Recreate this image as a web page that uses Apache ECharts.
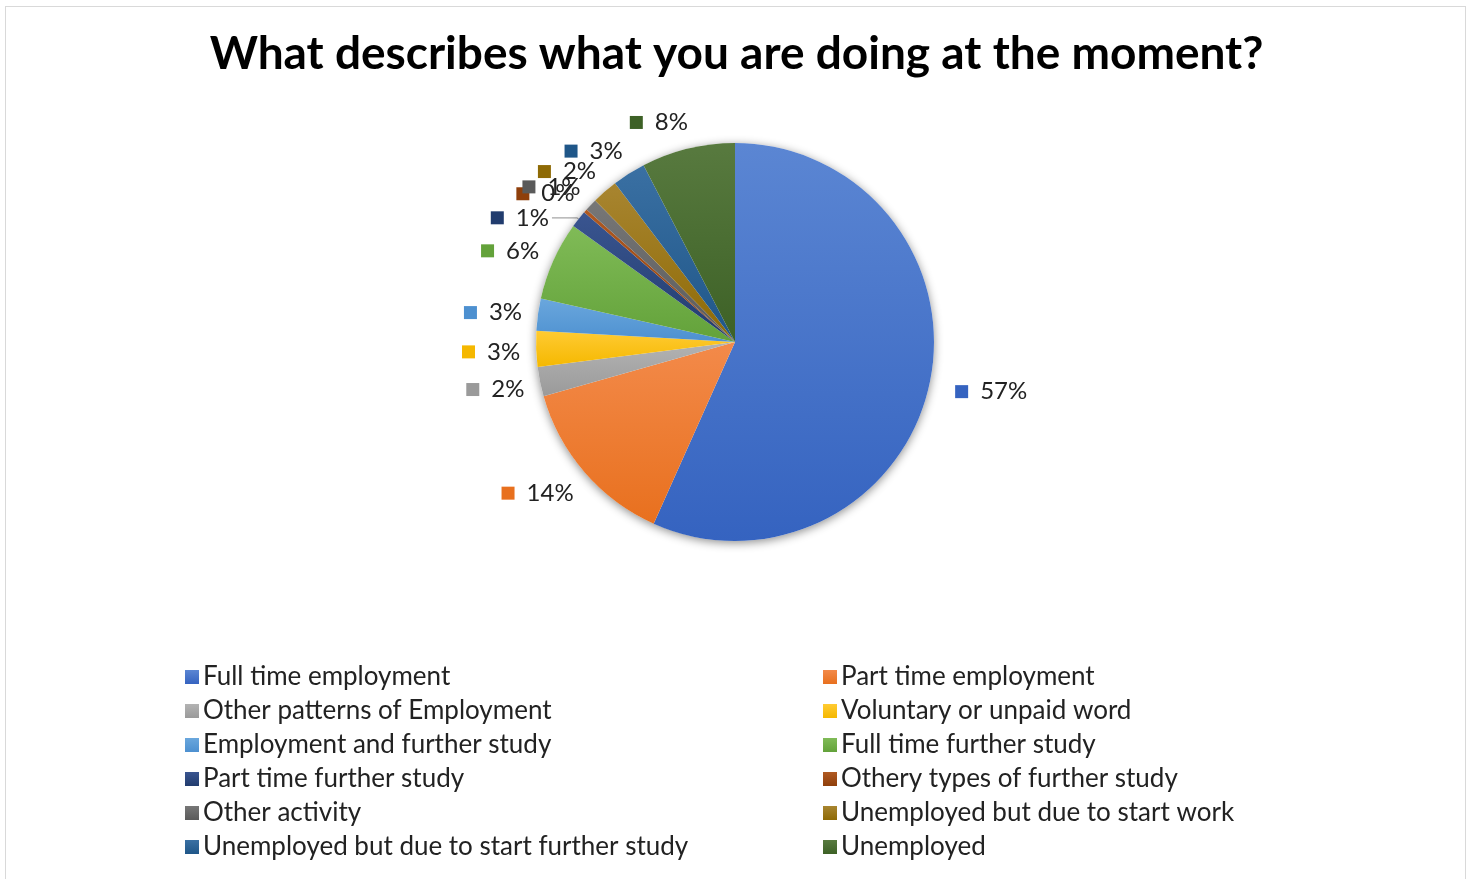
<!DOCTYPE html>
<html>
<head>
<meta charset="utf-8">
<script src="https://cdn.jsdelivr.net/npm/echarts@6/dist/echarts.min.js"></script>
<style>
  html, body { margin: 0; padding: 0; background: #ffffff; }
  #frame { position: absolute; left: 5px; top: 6px; width: 1461px; height: 880px;
           border: 1px solid #d9d9d9; box-sizing: border-box; }
  #chart { position: absolute; left: 0; top: 0; width: 1473px; height: 879px; }
</style>
</head>
<body>
<div id="frame"></div>
<div id="chart"></div>
<script>
// Survey responses: current activity (share of respondents, %)
const categories = [
  'Full time employment',
  'Part time employment',
  'Other patterns of Employment',
  'Voluntary or unpaid word',
  'Employment and further study',
  'Full time further study',
  'Part time further study',
  'Othery types of further study',
  'Other activity',
  'Unemployed but due to start work',
  'Unemployed but due to start further study',
  'Unemployed'
];
const shares = [56.7, 13.9, 2.4, 2.9, 2.6, 6.4, 1.4, 0.3, 1.0, 2.1, 2.7, 7.6];

// Slice colours: [light top, base bottom]
const colors = [
  ['#5b86d3', '#3563c0'],
  ['#f38a4a', '#e8701e'],
  ['#b3b3b3', '#9a9a9a'],
  ['#ffcb33', '#f5b800'],
  ['#6aa7dd', '#4d90d0'],
  ['#80bb57', '#63a23a'],
  ['#3a5590', '#213c6e'],
  ['#b05a22', '#8f3f0b'],
  ['#777777', '#5a5a5a'],
  ['#a88530', '#8e6a05'],
  ['#3a70a3', '#1f5688'],
  ['#587a3f', '#3d6126']
];

// Slices whose label sits off to the side with a leader line
const leaderLabels = ['Part time further study'];

const CX = 735, CY = 342, R = 199;
const FONT = 'Lato, "DejaVu Sans", sans-serif';

const rich = { t: { fontSize: 24, color: '#222', fontFamily: FONT, padding: [0, 0, 0, 12] } };
colors.forEach((c, i) => {
  rich['s' + i] = { width: 13, height: 13, backgroundColor: c[1] };
});

const pieData = categories.map((name, i) => {
  const item = {
    name,
    value: shares[i],
    itemStyle: {
      color: {
        type: 'linear', x: 0, y: 0, x2: 0, y2: 1,
        colorStops: [{ offset: 0, color: colors[i][0] }, { offset: 1, color: colors[i][1] }]
      }
    }
  };
  if (leaderLabels.includes(name)) {
    item.labelLine = { show: true, length: 2, length2: 25, lineStyle: { color: '#a6a6a6', width: 1.2 } };
    item.label = { distanceToLabelLine: 3 };
  }
  return item;
});

const leftNames = categories.filter((_, i) => i % 2 === 0);
const rightNames = categories.filter((_, i) => i % 2 === 1);

const legendBase = {
  orient: 'vertical',
  top: 664,
  padding: 0,
  itemWidth: 14,
  itemHeight: 14,
  itemGap: 8,
  icon: 'rect',
  selectedMode: false,
  textStyle: { fontSize: 26, lineHeight: 26, color: '#222', fontFamily: FONT, padding: [0, 0, 0, -1] }
};

const chart = echarts.init(document.getElementById('chart'), null, { renderer: 'canvas' });

chart.setOption({
  backgroundColor: 'transparent',
  animation: false,
  color: colors.map(c => c[1]),
  title: {
    text: 'What describes what you are doing at the moment?',
    left: 'center',
    top: 26,
    textStyle: { fontSize: 46, fontWeight: 'bold', color: '#000', fontFamily: FONT }
  },
  legend: [
    Object.assign({}, legendBase, { left: 185, data: leftNames }),
    Object.assign({}, legendBase, { left: 823, data: rightNames })
  ],
  series: [
    {
      // soft drop shadow under the pie
      type: 'pie',
      silent: true,
      center: [CX, CY],
      radius: R,
      label: { show: false },
      labelLine: { show: false },
      itemStyle: { color: '#ffffff', shadowBlur: 10, shadowOffsetY: 2, shadowColor: 'rgba(0,0,0,0.45)' },
      data: [{ value: 1, name: '' }],
      legendHoverLink: false,
      tooltip: { show: false }
    },
    {
      type: 'pie',
      center: [CX, CY],
      radius: R,
      startAngle: 90,
      clockwise: true,
      avoidLabelOverlap: false,
      itemStyle: { borderWidth: 0 },
      label: {
        show: true,
        position: 'outside',
        formatter: p => '{s' + p.dataIndex + '|}{t|' + Math.round(p.percent) + '%}',
        rich
      },
      labelLine: { show: false, length: 10, length2: 0 },
      // place each label just outside the rim along its slice's mid-angle
      labelLayout: function (p) {
        if (leaderLabels.includes(categories[p.dataIndex])) return {};
        const pt = p.labelLinePoints[0];
        let dx = pt[0] - CX, dy = pt[1] - CY;
        const len = Math.hypot(dx, dy) || 1;
        dx /= len; dy /= len;
        const w = p.labelRect.width;
        return {
          x: CX + 5 + dx * 220 + Math.sign(dx) * w / 2,
          y: CY + 2 + dy * 228,
          align: 'center',
          verticalAlign: 'middle'
        };
      },
      data: pieData
    }
  ]
});
</script>
</body>
</html>
